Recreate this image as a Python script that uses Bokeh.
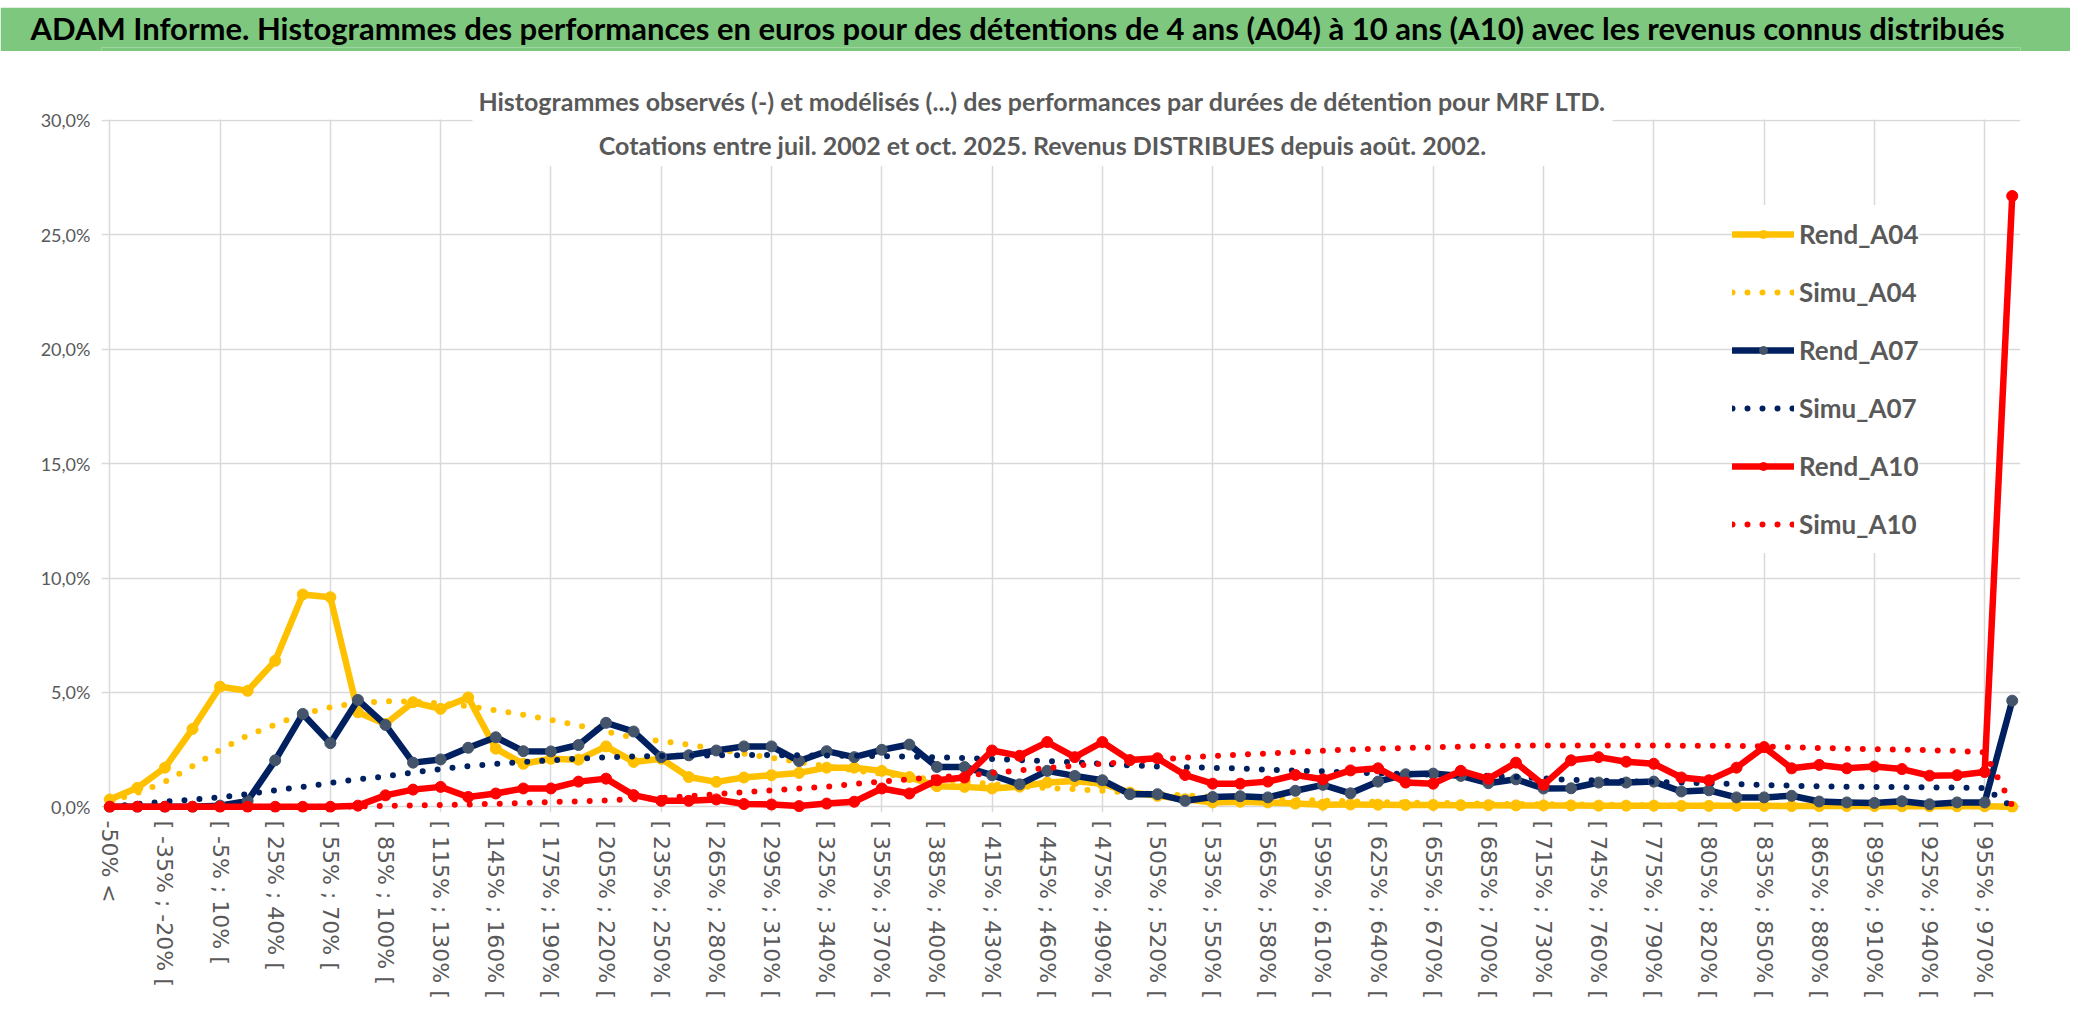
from bokeh.plotting import figure
from bokeh.models import (ColumnDataSource, Range1d, FixedTicker, CustomJSTickFormatter,
                          Legend, LegendItem, Label, BoxAnnotation, Spacer)
from bokeh.layouts import column
from bokeh.embed import file_html
from bokeh.resources import INLINE

# ---------------- data ----------------
categories = [
    "-50% <", "[ -50% ; -35% [", "[ -35% ; -20% [", "[ -20% ; -5% [", "[ -5% ; 10% [",
    "[ 10% ; 25% [", "[ 25% ; 40% [", "[ 40% ; 55% [", "[ 55% ; 70% [", "[ 70% ; 85% [",
    "[ 85% ; 100% [", "[ 100% ; 115% [", "[ 115% ; 130% [", "[ 130% ; 145% [", "[ 145% ; 160% [",
    "[ 160% ; 175% [", "[ 175% ; 190% [", "[ 190% ; 205% [", "[ 205% ; 220% [", "[ 220% ; 235% [",
    "[ 235% ; 250% [", "[ 250% ; 265% [", "[ 265% ; 280% [", "[ 280% ; 295% [", "[ 295% ; 310% [",
    "[ 310% ; 325% [", "[ 325% ; 340% [", "[ 340% ; 355% [", "[ 355% ; 370% [", "[ 370% ; 385% [",
    "[ 385% ; 400% [", "[ 400% ; 415% [", "[ 415% ; 430% [", "[ 430% ; 445% [", "[ 445% ; 460% [",
    "[ 460% ; 475% [", "[ 475% ; 490% [", "[ 490% ; 505% [", "[ 505% ; 520% [", "[ 520% ; 535% [",
    "[ 535% ; 550% [", "[ 550% ; 565% [", "[ 565% ; 580% [", "[ 580% ; 595% [", "[ 595% ; 610% [",
    "[ 610% ; 625% [", "[ 625% ; 640% [", "[ 640% ; 655% [", "[ 655% ; 670% [", "[ 670% ; 685% [",
    "[ 685% ; 700% [", "[ 700% ; 715% [", "[ 715% ; 730% [", "[ 730% ; 745% [", "[ 745% ; 760% [",
    "[ 760% ; 775% [", "[ 775% ; 790% [", "[ 790% ; 805% [", "[ 805% ; 820% [", "[ 820% ; 835% [",
    "[ 835% ; 850% [", "[ 850% ; 865% [", "[ 865% ; 880% [", "[ 880% ; 895% [", "[ 895% ; 910% [",
    "[ 910% ; 925% [", "[ 925% ; 940% [", "[ 940% ; 955% [", "[ 955% ; 970% [", "> 970%",
]

rend_a04 = [0.32, 0.83, 1.71, 3.40, 5.25, 5.07, 6.38, 9.28, 9.16, 4.13,
            3.62, 4.57, 4.28, 4.78, 2.54, 1.88, 2.10, 2.06, 2.64, 1.96,
            2.10, 1.30, 1.09, 1.28, 1.38, 1.48, 1.71, 1.71, 1.57, 1.30,
            0.90, 0.87, 0.80, 0.88, 1.06, 1.13, 1.01, 0.62, 0.48, 0.33,
            0.19, 0.22, 0.19, 0.14, 0.09, 0.10, 0.09, 0.08, 0.08, 0.07,
            0.07, 0.06, 0.06, 0.06, 0.05, 0.05, 0.05, 0.04, 0.04, 0.04,
            0.04, 0.03, 0.03, 0.03, 0.03, 0.02, 0.02, 0.02, 0.02, 0.00]

simu_a04 = [0.25, 0.60, 1.09, 1.77, 2.49, 3.12, 3.59, 4.06, 4.35, 4.55,
            4.61, 4.60, 4.52, 4.40, 4.22, 4.02, 3.80, 3.56, 3.28, 3.03,
            2.87, 2.71, 2.54, 2.32, 2.14, 1.96, 1.77, 1.59, 1.45, 1.30,
            1.19, 1.09, 0.99, 0.90, 0.82, 0.77, 0.70, 0.63, 0.56, 0.50,
            0.44, 0.39, 0.34, 0.30, 0.27, 0.24, 0.21, 0.19, 0.17, 0.15,
            0.13, 0.12, 0.11, 0.10, 0.09, 0.08, 0.07, 0.06, 0.06, 0.05,
            0.05, 0.04, 0.04, 0.03, 0.03, 0.03, 0.02, 0.02, 0.02, 0.00]

rend_a07 = [0.00, 0.00, 0.00, 0.00, 0.05, 0.26, 2.03, 4.06, 2.78, 4.67,
            3.58, 1.93, 2.07, 2.58, 3.04, 2.43, 2.42, 2.70, 3.67, 3.29,
            2.17, 2.25, 2.46, 2.64, 2.64, 2.00, 2.43, 2.17, 2.49, 2.72,
            1.74, 1.74, 1.38, 0.98, 1.57, 1.35, 1.16, 0.55, 0.55, 0.26,
            0.43, 0.46, 0.41, 0.70, 0.96, 0.59, 1.10, 1.42, 1.45, 1.35,
            1.03, 1.20, 0.80, 0.81, 1.06, 1.06, 1.10, 0.67, 0.72, 0.41,
            0.41, 0.48, 0.23, 0.19, 0.17, 0.24, 0.11, 0.19, 0.19, 4.64]

simu_a07 = [0.00, 0.12, 0.22, 0.32, 0.42, 0.55, 0.72, 0.87, 1.04, 1.20,
            1.33, 1.50, 1.65, 1.78, 1.88, 1.96, 2.03, 2.10, 2.16, 2.20,
            2.22, 2.24, 2.25, 2.26, 2.26, 2.25, 2.24, 2.23, 2.21, 2.19,
            2.16, 2.13, 2.09, 2.04, 2.00, 1.94, 1.88, 1.81, 1.76, 1.73,
            1.70, 1.67, 1.62, 1.58, 1.55, 1.50, 1.46, 1.43, 1.41, 1.38,
            1.35, 1.30, 1.24, 1.17, 1.15, 1.12, 1.09, 1.06, 1.03, 0.99,
            0.95, 0.92, 0.90, 0.88, 0.87, 0.86, 0.85, 0.84, 0.82, 0.00]

rend_a10 = [0.00, 0.00, 0.00, 0.00, 0.00, 0.00, 0.00, 0.00, 0.00, 0.05,
            0.50, 0.75, 0.87, 0.43, 0.58, 0.80, 0.80, 1.10, 1.23, 0.51,
            0.26, 0.26, 0.32, 0.12, 0.10, 0.03, 0.14, 0.22, 0.80, 0.58,
            1.16, 1.28, 2.46, 2.23, 2.83, 2.17, 2.83, 2.04, 2.12, 1.39,
            1.01, 1.01, 1.10, 1.39, 1.20, 1.59, 1.68, 1.06, 1.01, 1.57,
            1.22, 1.93, 0.96, 2.03, 2.17, 1.97, 1.88, 1.28, 1.16, 1.71,
            2.61, 1.68, 1.83, 1.68, 1.76, 1.65, 1.36, 1.38, 1.52, 26.70]

simu_a10 = [0.00, 0.00, 0.00, 0.00, 0.00, 0.00, 0.00, 0.00, 0.00, 0.02,
            0.04, 0.06, 0.08, 0.10, 0.13, 0.17, 0.21, 0.24, 0.28, 0.33,
            0.39, 0.46, 0.55, 0.64, 0.72, 0.80, 0.88, 1.00, 1.10, 1.20,
            1.29, 1.37, 1.48, 1.59, 1.70, 1.80, 1.88, 1.97, 2.07, 2.15,
            2.22, 2.28, 2.33, 2.39, 2.45, 2.50, 2.54, 2.57, 2.60, 2.63,
            2.66, 2.67, 2.68, 2.68, 2.68, 2.68, 2.68, 2.67, 2.67, 2.66,
            2.64, 2.60, 2.57, 2.54, 2.52, 2.50, 2.47, 2.44, 2.38, 0.05]

y_ticks = [0, 5, 10, 15, 20, 25, 30]

banner_text = ("ADAM Informe. Histogrammes des performances en euros pour des détentions "
               "de 4 ans (A04) à 10 ans (A10) avec les revenus connus distribués")
subtitle_text = ("Histogrammes observés (-) et modélisés (...) des performances par durées de détention pour MRF LTD.\n"
                 "Cotations entre juil. 2002 et oct. 2025. Revenus DISTRIBUES depuis août. 2002.")

YELLOW = "#FFC000"
NAVY = "#002060"
NAVY_MK = "#44546A"
RED = "#FF0000"
GREY_TXT = "#595959"
GRID = "#D9D9D9"
GREEN = "#7DC87E"
SEP = "#D6D6D6"

W = 2070
LEFT, RIGHT = 101, 50

# ---------------- banner ----------------
banner = figure(width=W, height=44, x_range=Range1d(0, 1), y_range=Range1d(0, 1),
                x_axis_type=None, y_axis_type=None, toolbar_location=None,
                output_backend="svg", min_border_left=LEFT, min_border_right=RIGHT,
                min_border_top=0, min_border_bottom=0,
                background_fill_color=GREEN, border_fill_color=GREEN, outline_line_color=None)
banner.title.text = banner_text
banner.title.align = "left"
banner.title.offset = -71
banner.title.standoff = 0
banner.title.vertical_align = "middle"
banner.title.text_font = "Lato"
banner.title.text_font_style = "bold"
banner.title.text_font_size = "31px"
banner.title.text_color = "black"

# thin grey separator under the banner
sep = figure(width=W, height=4, x_range=Range1d(0, 1), y_range=Range1d(0, 1),
             x_axis_type=None, y_axis_type=None, toolbar_location=None,
             output_backend="svg", min_border_left=LEFT, min_border_right=RIGHT,
             min_border_top=0, min_border_bottom=0,
             background_fill_color=SEP, border_fill_color=SEP, outline_line_color=None)

# ---------------- main chart ----------------
src = ColumnDataSource(dict(
    x=list(range(len(categories))),
    rend_a04=rend_a04, simu_a04=simu_a04,
    rend_a07=rend_a07, simu_a07=simu_a07,
    rend_a10=rend_a10, simu_a10=simu_a10,
))

p = figure(width=W, height=962, x_range=Range1d(-0.3, len(categories) - 0.7),
           y_range=Range1d(-0.25, 31.792), toolbar_location=None, output_backend="svg",
           min_border_left=LEFT, min_border_right=RIGHT, min_border_top=24, min_border_bottom=205,
           background_fill_color="white", border_fill_color="white", outline_line_color=None)

# axes
p.xaxis.ticker = FixedTicker(ticks=list(range(0, len(categories), 2)))
p.xaxis.formatter = CustomJSTickFormatter(args=dict(labels=categories), code="""
    const i = Math.round(tick);
    return (i >= 0 && i < labels.length) ? labels[i] : '';
""")
p.xaxis.major_label_orientation = "vertical"
p.xaxis.major_label_text_font = "DejaVu Sans"
p.xaxis.major_label_text_font_size = "22px"
p.xaxis.major_label_text_color = GREY_TXT
p.xaxis.major_label_standoff = 8

p.yaxis.ticker = FixedTicker(ticks=y_ticks)
p.yaxis.formatter = CustomJSTickFormatter(code="return tick.toFixed(1).replace('.', ',') + '%';")
p.yaxis.major_label_text_font = "Lato"
p.yaxis.major_label_text_font_size = "18px"
p.yaxis.major_label_text_color = GREY_TXT
p.yaxis.major_label_standoff = 11

for ax in (p.xaxis, p.yaxis):
    ax.axis_line_color = None
    ax.major_tick_line_color = None
    ax.minor_tick_line_color = None
    ax.major_tick_out = 0
    ax.major_tick_in = 0
    ax.minor_tick_out = 0

p.xgrid.ticker = FixedTicker(ticks=list(range(0, len(categories), 4)))
p.xgrid.grid_line_color = GRID
p.xgrid.grid_line_width = 1.5
p.ygrid.grid_line_color = GRID
p.ygrid.grid_line_width = 1.5

# series (Excel order: later drawn on top)
items = []

def rend(col, color, mk, label):
    l = p.line("x", col, source=src, line_color=color, line_width=6.5, line_join="round", line_cap="round")
    s = p.scatter("x", col, source=src, size=11, fill_color=mk, line_color=mk)
    items.append(LegendItem(label=label, renderers=[l, s]))

def simu(col, color, label):
    l = p.line("x", col, source=src, line_color=color, line_width=6, line_dash="0 15",
               line_cap="round", line_join="round")
    items.append(LegendItem(label=label, renderers=[l]))

rend("rend_a04", YELLOW, YELLOW, "Rend_A04")
simu("simu_a04", YELLOW, "Simu_A04")
rend("rend_a07", NAVY, NAVY_MK, "Rend_A07")
simu("simu_a07", NAVY, "Simu_A07")
rend("rend_a10", RED, RED, "Rend_A10")
simu("simu_a10", RED, "Simu_A10")

legend = Legend(items=items, location=(1631, 259), orientation="vertical",
                padding=10, spacing=0, label_height=58, glyph_width=62, glyph_height=20,
                label_standoff=5, label_text_font="Lato", label_text_font_style="bold",
                label_text_font_size="26px", label_text_color=GREY_TXT,
                label_text_baseline="middle",
                background_fill_color="white", background_fill_alpha=1.0,
                border_line_color=None)
p.add_layout(legend)

# blank strip above the 30% line (plot area ends there in the original)
p.add_layout(BoxAnnotation(bottom=30.04, fill_color="white", fill_alpha=1.0, line_color=None))

# chart title (inside the plot, over the gridlines)
p.add_layout(Label(x=33.83, y=29.88, x_units="data", y_units="data", text=subtitle_text,
                   text_align="center", text_baseline="middle", text_font="Lato",
                   text_font_style="bold", text_font_size="25px", text_color=GREY_TXT,
                   text_line_height=1.45, background_fill_color="white", padding=6))

layout = column(Spacer(width=W, height=7), banner, sep, p, spacing=0)
open("out.html", "w").write(file_html(layout, INLINE))
